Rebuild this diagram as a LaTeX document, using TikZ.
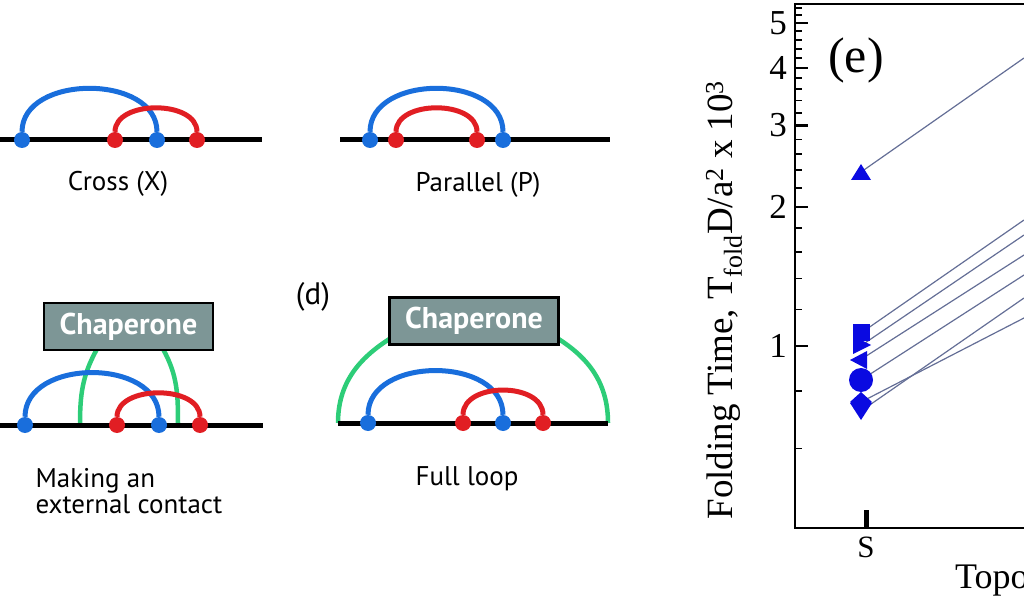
\documentclass[tikz,border=0pt]{standalone}
\usepackage{fontspec}
\setmainfont{Liberation Serif}
\newfontfamily\panelfont{PT Sans}
\usetikzlibrary{positioning}

\definecolor{azul}{RGB}{25,110,220}
\definecolor{rojo}{RGB}{225,30,35}
\definecolor{verde}{RGB}{45,205,120}
\definecolor{gris}{RGB}{125,150,150}
\definecolor{marca}{RGB}{10,10,225}
\definecolor{linea}{RGB}{100,110,150}

\begin{document}
\begin{tikzpicture}[x=1pt, y=1pt,
    bola/.style={circle, fill=#1, inner sep=0pt, minimum size=16pt},
    arco/.style={draw=#1, line width=5pt},
    cadena/.style={line width=5pt},
    lazo/.style={draw=verde, line width=4.5pt},
    chap/.style={draw, line width=2.5pt, fill=gris, text=white, inner sep=0pt,
      minimum width=169pt, minimum height=47pt,
      font=\panelfont\bfseries\fontsize{30}{30}\selectfont},
    texto/.style={font=\panelfont\fontsize{27}{27}\selectfont},
    num/.style={anchor=east, inner sep=0pt, font=\fontsize{35}{35}\selectfont},
    curva/.style={draw=linea, line width=1.2pt}]

    \useasboundingbox (0,0) rectangle (1024,600);
    \clip (0,0) rectangle (1024,600);

    % Cross (X)
    \coordinate (x0) at (0,460);
    \coordinate (x9) at (262,460);
    \draw[cadena] (x0) -- (x9);
    \node[bola=azul] (xa) at (22,460) {};
    \node[bola=rojo] (xb) at (115,460) {};
    \node[bola=azul] (xc) at (157,460) {};
    \node[bola=rojo] (xd) at (197,460) {};
    \draw[arco=azul] (xa.north) .. controls +(0,58) and +(0,58) .. (xc.north);
    \draw[arco=rojo] (xb.north) .. controls +(0,32) and +(0,32) .. (xd.north);
    \node[texto, anchor=base] (xt) at (118,409) {Cross (X)};

    % Parallel (P)
    \coordinate (p0) at (340,460);
    \coordinate (p9) at (610,460);
    \draw[cadena] (p0) -- (p9);
    \node[bola=azul] (pa) at (370,460) {};
    \node[bola=rojo] (pb) at (396,460) {};
    \node[bola=rojo] (pc) at (477,460) {};
    \node[bola=azul] (pd) at (503,460) {};
    \draw[arco=azul] (pa.north) .. controls +(0,58) and +(0,58) .. (pd.north);
    \draw[arco=rojo] (pb.north) .. controls +(0,32) and +(0,32) .. (pc.north);
    \node[texto, anchor=base] (pt) at (478,408) {Parallel (P)};

    % Contacto externo
    \coordinate (e0) at (0,175);
    \coordinate (e9) at (263,175);
    \coordinate (g1) at (80,175);
    \coordinate (g2) at (178,175);
    \coordinate (g3) at (97,251);
    \coordinate (g4) at (163,251);
    \draw[lazo] (g1) to[out=90, in=241] (g3);
    \draw[lazo] (g2) to[out=90, in=-61] (g4);
    \draw[cadena] (e0) -- (e9);
    \node[bola=azul] (ea) at (25,175) {};
    \node[bola=rojo] (eb) at (117,175) {};
    \node[bola=azul] (ec) at (159,175) {};
    \node[bola=rojo] (ed) at (200,175) {};
    \draw[arco=azul] (ea.north) .. controls +(0,59) and +(0,59) .. (ec.north);
    \draw[arco=rojo] (eb.north) .. controls +(0,32) and +(0,32) .. (ed.north);
    \node[chap] (ech) at (128.5,273.5) {Chaperone};
    \node[texto, anchor=base west] (et1) at (32,113) {Making an};
    \node[texto, anchor=base west] (et2) at (32,87) {external contact};

    % Full loop
    \coordinate (l0) at (338,177);
    \coordinate (l9) at (608,177);
    \coordinate (l1) at (391,262);
    \coordinate (l2) at (557,262);
    \draw[lazo] (l0) to[out=90, in=212] (l1);
    \draw[lazo] (l9) to[out=90, in=-32] (l2);
    \draw[cadena] (l0) -- (l9);
    \node[bola=azul] (la) at (368,177) {};
    \node[bola=rojo] (lb) at (463,177) {};
    \node[bola=azul] (lc) at (503,177) {};
    \node[bola=rojo] (ld) at (543,177) {};
    \draw[arco=azul] (la.north) .. controls +(0,59) and +(0,59) .. (lc.north);
    \draw[arco=rojo] (lb.north) .. controls +(0,33) and +(0,33) .. (ld.north);
    \node[chap] (lch) at (474,279) {Chaperone};
    \node[texto, anchor=base] (lt) at (467,115) {Full loop};
    \node[texto, anchor=base, font=\panelfont\fontsize{31}{31}\selectfont] (dd) at (313,295) {(d)};

    % Ejes (e)
    \draw[line width=2.5pt] (1030,596) -- (795,596) -- (795,72) -- (1030,72);
    \foreach \v in {1,2,3,4,5}
      \draw[line width=2.5pt] (795,{254+462*log10(\v)}) -- ++(13,0);
    \foreach \v in {0.6,0.8,1.2,1.4,1.6,1.8,2.2,2.4,2.6,2.8,3.2,3.4,3.6,3.8,4.2,4.4,4.6,4.8,5.2,5.4}
      \draw[line width=1.8pt] (795,{254+462*log10(\v)}) -- ++(7,0);
    \foreach \v in {1,2,3,4,5}
      \node[num] (n\v) at (787,{254+462*log10(\v)}) {\v};
    \draw[line width=5pt] (866,72) -- (866,90);
    \node[font=\fontsize{31}{31}\selectfont] (s) at (866,53) {S};
    \node[font=\fontsize{36}{36}\selectfont, anchor=west, inner sep=0pt] (topo) at (955,20) {Topology};
    \node[rotate=90, font=\fontsize{37}{37}\selectfont] (ylab) at (724,300)
      {Folding Time, T\textsubscript{fold}D/a\textsuperscript{2} x 10\textsuperscript{3}};
    \node[font=\fontsize{50}{50}\selectfont] (e) at (856,540) {(e)};

    % Datos
    \coordinate (m1) at (861,428);
    \coordinate (m2) at (861,267);
    \coordinate (m3) at (862,255);
    \coordinate (m4) at (860,240);
    \coordinate (m5) at (861,220);
    \coordinate (m6) at (861,198);
    \coordinate (m7) at (861,189);
    \coordinate (f1) at (1024,542);
    \coordinate (f2) at (1024,380);
    \coordinate (f3) at (1024,365);
    \coordinate (f4) at (1024,345);
    \coordinate (f5) at (1024,325);
    \coordinate (f6) at (1024,282);
    \coordinate (f7) at (1024,302);
    \draw[curva] (m1) -- (f1);
    \draw[curva] (m2) -- (f2);
    \draw[curva] (m3) -- (f3);
    \draw[curva] (m4) -- (f4);
    \draw[curva] (m5) -- (f5);
    \draw[curva] (m6) -- (f6);
    \draw[curva] (m7) -- (f7);
    \fill[marca] (m1) ++(-10,-8) -- ++(20,0) -- ++(-10,16) -- cycle;
    \fill[marca] (m3) ++(-9,9) -- ++(0,-18) -- ++(18,9) -- cycle;
    \fill[marca] (m2) ++(-8.5,-8.5) rectangle ++(17,17);
    \fill[marca] (m4) ++(-10,0) -- ++(17,9) -- ++(0,-18) -- cycle;
    \fill[marca] (m5) circle[radius=12];
    \fill[marca] (m7) ++(-11,8) -- ++(22,0) -- ++(-11,-17) -- cycle;
    \fill[marca] (m6) ++(-11,0) -- ++(11,10) -- ++(11,-10) -- ++(-11,-10) -- cycle;
\end{tikzpicture}
\end{document}
